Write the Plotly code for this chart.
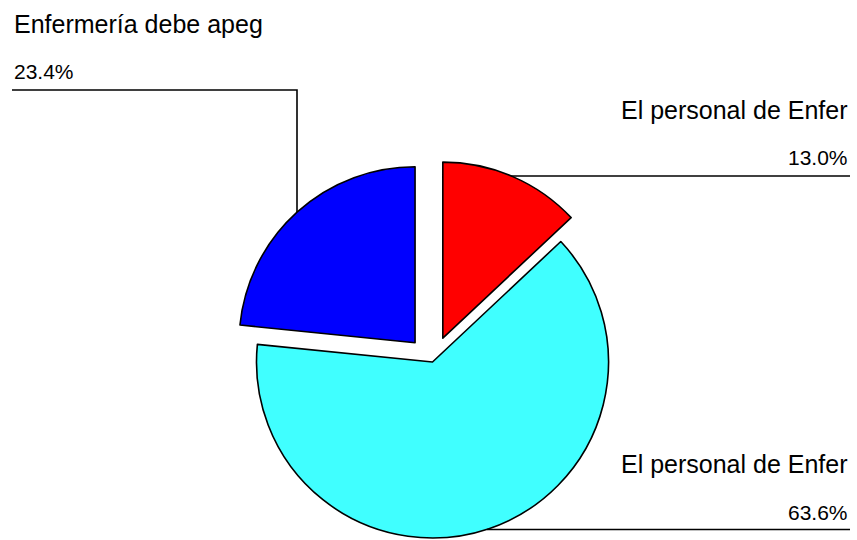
import math
import plotly.graph_objects as go

# data
labels = ["El personal de Enfer", "El personal de Enfer", "Enfermería debe apeg"]
shares = [13.0, 63.6, 23.4]
colors = ["#FF0000", "#40FFFF", "#0000FF"]
pulled = [True, False, True]

W, H = 857, 540
CX, CY, R = 432.5, 362, 176      # pie centre / radius in px
PULL = 26                        # explode distance in px


def px(x):
    return x / W


def py(y):
    return 1 - y / H


fig = go.Figure()

# one pie trace per slice so each one can be exploded on its own
total = sum(shares)
start = 0
for i, v in enumerate(shares):
    mid = math.radians((start + v / 2) / total * 360)
    start += v
    d = PULL if pulled[i] else 0
    cx = CX + d * math.sin(mid)
    cy = CY - d * math.cos(mid)
    fig.add_trace(go.Pie(
        values=shares,
        labels=[f"s{j}" for j in range(len(shares))],
        sort=False,
        direction="clockwise",
        rotation=0,
        textinfo="none",
        hoverinfo="skip",
        marker=dict(
            colors=[colors[j] if j == i else "rgba(0,0,0,0)" for j in range(len(shares))],
            line=dict(color="black", width=[1.6 if j == i else 0 for j in range(len(shares))]),
        ),
        domain=dict(x=[px(cx - R), px(cx + R)], y=[py(cy + R), py(cy - R)]),
        showlegend=False,
    ))

line = dict(color="black", width=1.6)
shapes = [
    # Enfermería (blue)
    dict(type="path", path=f"M {px(12)} {py(90)} L {px(297)} {py(90)} L {px(297)} {py(212)}", line=line),
    # 13.0% (red)
    dict(type="line", x0=px(511), x1=px(850), y0=py(176), y1=py(176), line=line),
    # 63.6% (cyan)
    dict(type="line", x0=px(487), x1=px(850), y0=py(529.5), y1=py(529.5), line=line),
]
for s in shapes:
    s["xref"] = "paper"
    s["yref"] = "paper"

lab_font = dict(family="Liberation Sans, Arial, sans-serif", size=25, color="black")
pct_font = dict(family="Liberation Sans, Arial, sans-serif", size=21, color="black")
annots = [
    (labels[2], 12, 24, "left", lab_font),
    (f"{shares[2]:.1f}%", 12, 72, "left", pct_font),
    (labels[0], 850, 110, "right", lab_font),
    (f"{shares[0]:.1f}%", 850, 158, "right", pct_font),
    (labels[1], 850, 463.5, "right", lab_font),
    (f"{shares[1]:.1f}%", 850, 512, "right", pct_font),
]
annotations = [
    dict(text=t, x=px(x), y=py(y), xref="paper", yref="paper", xanchor=a, yanchor="middle",
         showarrow=False, font=f)
    for t, x, y, a, f in annots
]

fig.update_layout(
    width=W, height=H,
    margin=dict(l=0, r=0, t=0, b=0),
    paper_bgcolor="white",
    plot_bgcolor="white",
    shapes=shapes,
    annotations=annotations,
    showlegend=False,
)

# page has an 8px body margin by default; drop it so the figure fills the window
fig.write_html("out.html", config={"displayModeBar": False},
               post_script="document.body.style.margin='0';")
